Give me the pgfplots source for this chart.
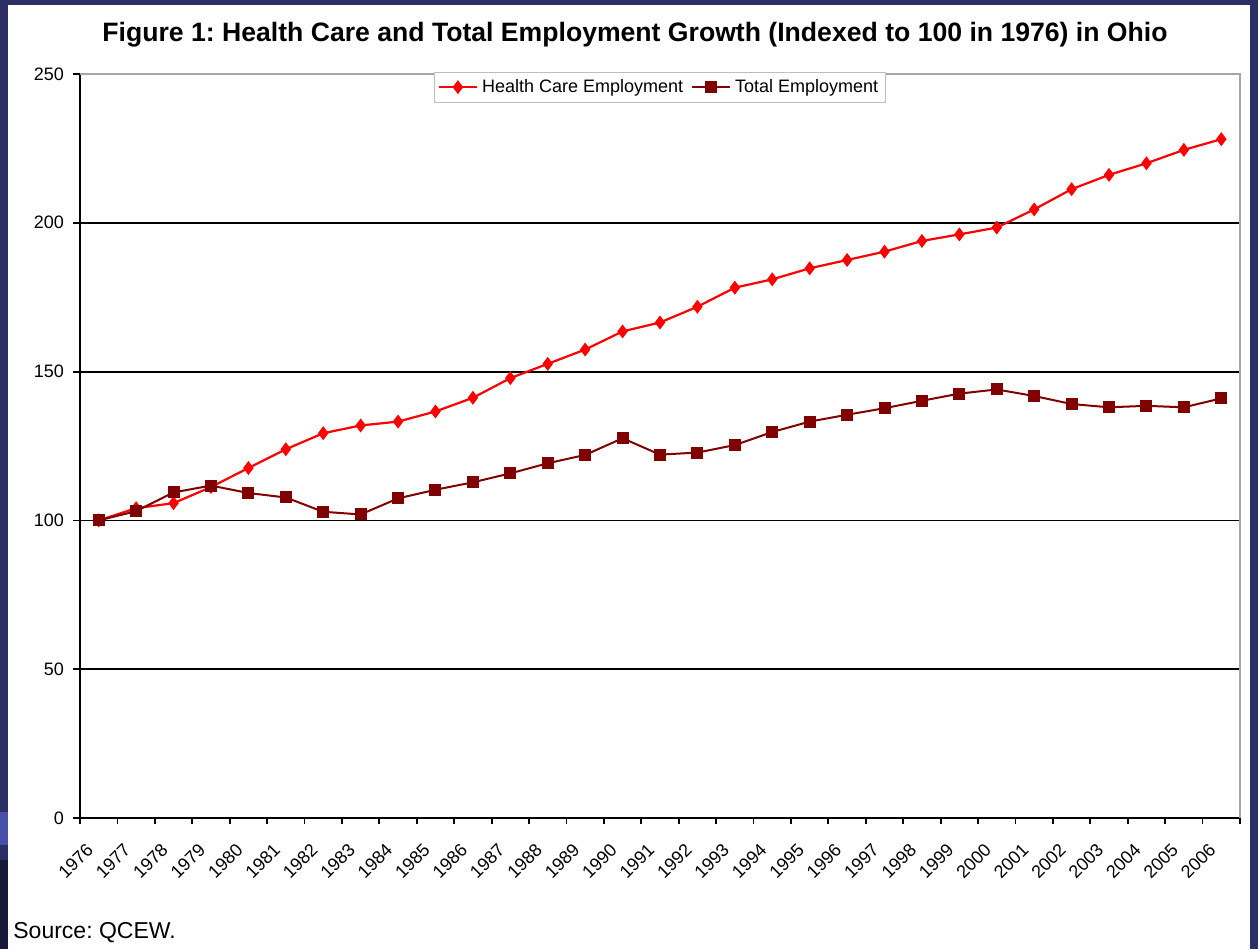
\documentclass[border=0pt]{standalone}
\usepackage{fontspec}
\setmainfont{Liberation Sans}
\usepackage{pgfplots}
\pgfplotsset{compat=1.18}
\definecolor{navy}{HTML}{2B2F66}
\definecolor{navylight}{HTML}{4650A8}
\definecolor{navydark}{HTML}{161A3A}
\definecolor{darkred}{HTML}{800000}
\frenchspacing
\begin{document}
\begin{tikzpicture}
\useasboundingbox (0,0) rectangle (629pt,474.5pt);
\fill[navy] (0,0) rectangle (629pt,474.5pt);
\fill[navylight] (0,52pt) rectangle (4pt,68.5pt);
\fill[navydark] (0,0) rectangle (4pt,44.5pt);
\fill[white] (4pt,0) rectangle (625pt,472pt);
\node[font=\bfseries\fontsize{13.3}{15}\selectfont] at (317.5pt,457pt) {Figure 1: Health Care and Total Employment Growth (Indexed to 100 in 1976) in Ohio};
\node[anchor=west,font=\fontsize{11.5}{13}\selectfont,inner sep=0pt] at (6.5pt,8pt) {Source: QCEW.};
\begin{axis}[name=ax, at={(40pt,65.5pt)}, anchor=south west, scale only axis,
  width=580pt, height=372pt,
  xmin=0, xmax=31, ymin=0, ymax=250,
  clip=false,
  axis x line*=bottom, axis y line*=left,
  axis line style={black, line width=0.9pt},
  tick align=outside,
  major tick length=3.5pt, minor tick length=3pt,
  tick style={black, line width=0.9pt},
  ytick={0,50,...,250},
  ymajorgrids, grid style={black, line width=0.9pt},
  xtick={0.5,1.5,...,30.5},
  xticklabels={1976,1977,1978,1979,1980,1981,1982,1983,1984,1985,1986,1987,1988,1989,1990,1991,1992,1993,1994,1995,1996,1997,1998,1999,2000,2001,2002,2003,2004,2005,2006},
  major x tick style={draw=none},
  minor xtick={0,1,...,31},
  /pgf/number format/assume math mode=true,
  y tick label style={font=\fontsize{9}{10}\selectfont, xshift=-1pt},
  x tick label style={font=\fontsize{9}{10}\selectfont, rotate=45, anchor=north east, xshift=-7.4pt, yshift=2.1pt},
  legend style={at={(0.5,1.003)}, anchor=north, legend columns=2, draw=gray!50, fill=white,
    font=\fontsize{9}{10}\selectfont, inner sep=1.5pt,
    /tikz/every even column/.append style={column sep=2pt}},
  legend image code/.code={\draw[mark repeat=2,mark phase=2,#1] plot coordinates {(0pt,0pt) (9.5pt,0pt) (19pt,0pt)};},
]
\draw[gray!70, line width=1pt] (rel axis cs:0,1) -- (rel axis cs:1,1) -- (rel axis cs:1,0);
\addplot[red, line width=1.1pt, mark=diamond*, mark size=2.6pt, mark options={fill=red, draw=red}] coordinates {
(0.5,100) (1.5,104.1) (2.5,105.8) (3.5,111.2) (4.5,117.6) (5.5,123.9) (6.5,129.3) (7.5,131.9) (8.5,133.2) (9.5,136.6)
(10.5,141.2) (11.5,147.8) (12.5,152.6) (13.5,157.4) (14.5,163.5) (15.5,166.5) (16.5,171.8) (17.5,178.2) (18.5,181.0) (19.5,184.7)
(20.5,187.5) (21.5,190.3) (22.5,193.9) (23.5,196.1) (24.5,198.4) (25.5,204.5) (26.5,211.3) (27.5,216.1) (28.5,220.0) (29.5,224.5) (30.5,228.1)
};
\addlegendentry{Health Care Employment}
\addplot[darkred, line width=1pt, mark=square*, mark size=2.5pt, mark options={fill=darkred, draw=darkred}] coordinates {
(0.5,100) (1.5,103.1) (2.5,109.4) (3.5,111.7) (4.5,109.2) (5.5,107.7) (6.5,102.9) (7.5,102.0) (8.5,107.4) (9.5,110.3)
(10.5,112.8) (11.5,115.8) (12.5,119.2) (13.5,122.0) (14.5,127.6) (15.5,122.1) (16.5,122.8) (17.5,125.3) (18.5,129.7) (19.5,133.2)
(20.5,135.5) (21.5,137.7) (22.5,140.2) (23.5,142.6) (24.5,144.0) (25.5,141.8) (26.5,139.1) (27.5,138.0) (28.5,138.5) (29.5,138.0) (30.5,141.0)
};
\addlegendentry{Total Employment}
\end{axis}
\end{tikzpicture}
\end{document}
